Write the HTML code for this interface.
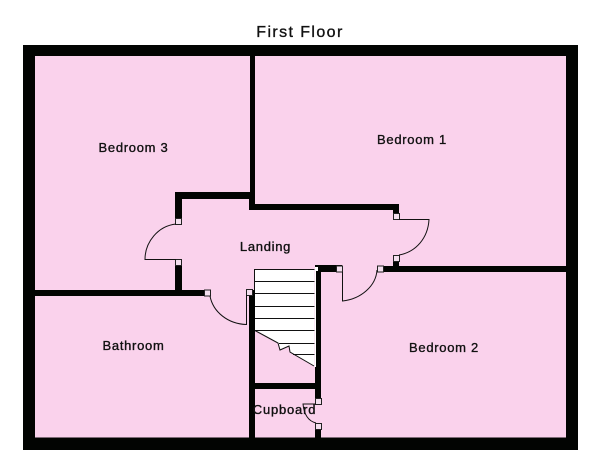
<!DOCTYPE html>
<html>
<head>
<meta charset="utf-8">
<style>
html,body{margin:0;padding:0;background:#fff}
svg{display:block}
text{font-family:"Liberation Sans",sans-serif;fill:#111;stroke:#111;stroke-width:.35;text-anchor:middle}
</style>
</head>
<body>
<svg width="600" height="472" viewBox="0 0 600 472" xmlns="http://www.w3.org/2000/svg">
<rect width="600" height="472" fill="#fff"/>
<rect x="23" y="45" width="555" height="405" fill="#020402"/>
<rect x="35" y="56" width="531" height="381.500" fill="#fad2ec"/>
<!-- stairs -->
<polygon points="254,269 314,269 314,366 290,352 289,346 280,350 278,343 254,330" fill="#fff"/>
<g stroke="#111" stroke-width="1" fill="none">
<path d="M254,269.500H315M254,281.500H315M254,293.500H315M254,306.500H315M254,318.500H315M254,330.500H315M279,343.500H315M293,354.500H315M254.500,269V330"/>
<path d="M254,330 278,343 280,350 289,346 290,352 314,366"/>
</g>
<!-- walls -->
<g fill="#020402">
<rect x="250" y="56" width="5" height="154"/>
<rect x="249" y="192" width="6" height="18"/>
<rect x="249" y="204" width="150" height="6"/>
<rect x="393" y="204" width="6" height="10"/>
<rect x="175" y="192" width="80" height="7"/>
<rect x="175" y="192" width="7" height="27"/>
<rect x="175" y="259" width="7" height="37"/>
<rect x="35" y="290" width="172" height="6"/>
<rect x="249" y="290" width="6" height="148"/>
<rect x="315" y="265" width="6" height="134"/>
<rect x="315" y="265" width="27" height="7"/>
<rect x="315" y="423" width="6" height="15"/>
<rect x="255" y="383" width="60" height="6"/>
<rect x="377" y="266" width="189" height="6"/>
<rect x="393" y="255" width="6" height="12"/>
</g>
<rect x="314.500" y="269" width="1.500" height="98" fill="#fff"/>
<rect x="315" y="267" width="3" height="4" fill="#fff"/>
<!-- door jamb boxes -->
<g fill="#f3dfee" stroke="#222" stroke-width="1">
<rect x="175.500" y="218.500" width="6" height="6"/>
<rect x="175.500" y="259.500" width="6" height="6"/>
<rect x="204.500" y="290" width="6" height="6"/>
<rect x="246.500" y="289.500" width="6" height="6"/>
<rect x="393.500" y="213.500" width="6" height="6"/>
<rect x="393.500" y="255.500" width="6" height="6"/>
<rect x="336.500" y="266" width="6" height="6"/>
<rect x="377.500" y="266" width="6" height="6"/>
<rect x="315.500" y="398.500" width="6" height="6"/>
<rect x="315.500" y="423.500" width="6" height="6"/>
</g>
<!-- doors -->
<g stroke="#111" stroke-width="1" fill="none">
<path d="M176,224C158,226 145,242 145,259.500H176"/>
<path d="M210,296C213,312 228,324 246.500,324.500V295"/>
<path d="M399,219.500H429C428,238 416,252 399,255"/>
<path d="M342.500,272V301C361,299 376,286 377,270"/>
<path d="M316,404H303C304,414 308,421 316,423"/>
</g>
<!-- labels -->
<text x="300" y="37" font-size="16" letter-spacing="1.400">First Floor</text>
<text x="133.500" y="152" font-size="13" letter-spacing=".7">Bedroom 3</text>
<text x="412" y="144" font-size="13" letter-spacing=".7">Bedroom 1</text>
<text x="265.500" y="251" font-size="13" letter-spacing=".7">Landing</text>
<text x="133.500" y="350" font-size="13" letter-spacing=".7">Bathroom</text>
<text x="444" y="352" font-size="13" letter-spacing=".7">Bedroom 2</text>
<text x="284.500" y="414" font-size="13" letter-spacing=".8">Cupboard</text>
</svg>
</body>
</html>
